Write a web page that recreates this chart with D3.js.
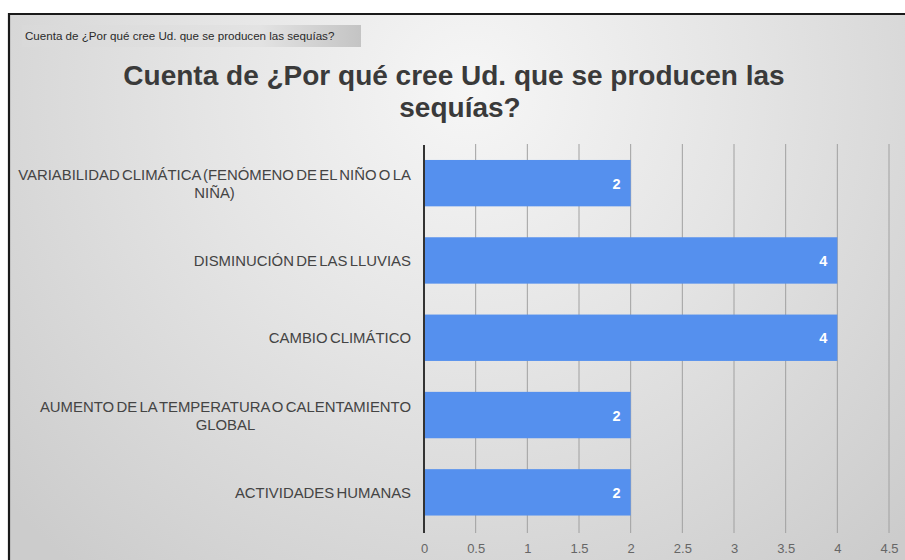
<!DOCTYPE html>
<html>
<head>
<meta charset="utf-8">
<script src="https://cdn.jsdelivr.net/npm/d3@7"></script>
<style>
  html, body { margin: 0; padding: 0; background: #fff; }
  svg { display: block; font-family: "Liberation Sans", Arial, sans-serif; }
</style>
</head>
<body>
<svg id="chart" width="905" height="560"></svg>
<script>
// Data
const categories = [
  "VARIABILIDAD CLIMÁTICA (FENÓMENO DE EL NIÑO O LA NIÑA)",
  "DISMINUCIÓN DE LAS LLUVIAS",
  "CAMBIO CLIMÁTICO",
  "AUMENTO DE LA TEMPERATURA O CALENTAMIENTO GLOBAL",
  "ACTIVIDADES HUMANAS"
];
const counts = [2, 4, 4, 2, 2];
const xTicks = [0, 0.5, 1, 1.5, 2, 2.5, 3, 3.5, 4, 4.5];
const titleLines = ["Cuenta de ¿Por qué cree Ud. que se producen las", "sequías?"];
const fieldLabel = "Cuenta de ¿Por qué cree Ud. que se producen las sequías?";

const svg = d3.select("#chart");
const W = 905, H = 560;

// Background gradients
const defs = svg.append("defs");
const bg = defs.append("radialGradient").attr("id", "bg")
  .attr("gradientUnits", "userSpaceOnUse")
  .attr("cx", 470).attr("cy", 90).attr("r", 620);
bg.append("stop").attr("offset", "0").attr("stop-color", "#f6f6f6");
bg.append("stop").attr("offset", "0.45").attr("stop-color", "#e4e4e4");
bg.append("stop").attr("offset", "1").attr("stop-color", "#cccccc");

const chip = defs.append("linearGradient").attr("id", "chip")
  .attr("x1", 0).attr("x2", 1).attr("y1", 0).attr("y2", 0);
chip.append("stop").attr("offset", "0").attr("stop-color", "#d9d9d9");
chip.append("stop").attr("offset", "0.7").attr("stop-color", "#e3e3e3");
chip.append("stop").attr("offset", "1").attr("stop-color", "#c4c4c4");

// Panel with dark frame on top and left
svg.append("rect").attr("x", 9).attr("y", 14).attr("width", W - 9).attr("height", H - 14)
  .attr("fill", "url(#bg)");
svg.append("path").attr("d", `M9,${H} V14 H${W}`)
  .attr("fill", "none").attr("stroke", "#1a1a1a").attr("stroke-width", 2.2);

// Field chip
svg.append("rect").attr("x", 22).attr("y", 25).attr("width", 339).attr("height", 22)
  .attr("fill", "url(#chip)");
svg.append("text").attr("x", 25).attr("y", 40)
  .attr("font-size", 11.6).attr("fill", "#2a2a2a").text(fieldLabel);

// Title
svg.append("g").selectAll("text").data(titleLines).join("text")
  .attr("x", (d, i) => i === 0 ? 454 : 460).attr("y", (d, i) => 85 + i * 32)
  .attr("text-anchor", "middle")
  .attr("font-size", 28).attr("font-weight", "bold").attr("fill", "#3a3a3a")
  .text(d => d);

// Scales
const x = d3.scaleLinear().domain([0, 4.5]).range([424, 889]);
const y = d3.scaleBand().domain(categories).range([144.5, 531]).paddingInner(0.4).paddingOuter(0.2);

// Gridlines
svg.append("g").selectAll("line").data(xTicks.filter(t => t > 0)).join("line")
  .attr("x1", d => x(d)).attr("x2", d => x(d))
  .attr("y1", 144).attr("y2", 533)
  .attr("stroke", "#a0a0a0").attr("stroke-width", 1);

// Bars
svg.append("g").selectAll("rect").data(categories).join("rect")
  .attr("x", x(0)).attr("y", d => y(d))
  .attr("width", (d, i) => x(counts[i]) - x(0))
  .attr("height", y.bandwidth())
  .attr("fill", "#5590ee");

// Value labels
svg.append("g").selectAll("text").data(categories).join("text")
  .attr("x", (d, i) => x(counts[i]) - 10)
  .attr("y", d => y(d) + y.bandwidth() / 2 + 5.5)
  .attr("text-anchor", "end")
  .attr("font-size", 14.5).attr("font-weight", "bold").attr("fill", "#ffffff")
  .text((d, i) => counts[i]);

// Zero axis line
svg.append("line").attr("x1", x(0)).attr("x2", x(0)).attr("y1", 145).attr("y2", 533)
  .attr("stroke", "#333").attr("stroke-width", 2);

// X tick labels
const xAxis = d3.axisBottom(x).tickValues(xTicks).tickSize(0).tickPadding(0)
  .tickFormat(d3.format("~g"));
const gx = svg.append("g").attr("transform", "translate(0,544)").call(xAxis);
gx.select(".domain").remove();
gx.selectAll("text").attr("font-size", 13).attr("fill", "#666")
  .attr("font-family", "'Liberation Sans', Arial, sans-serif");

// Category labels, wrapped and centred on each line, right-aligned as a block
const labelRight = 411, maxW = 400, lineH = 18, fs = 14.9;
const gy = svg.append("g");
const styleLabel = s => s.attr("font-size", fs).attr("word-spacing", -1.8);
categories.forEach(cat => {
  const words = cat.split(" ");
  const probe = gy.append("text").call(styleLabel);
  const lines = [];
  let cur = "";
  words.forEach(w => {
    const t = cur ? cur + " " + w : w;
    probe.text(t);
    if (probe.node().getComputedTextLength() > maxW && cur) { lines.push(cur); cur = w; }
    else cur = t;
  });
  lines.push(cur);
  const widths = lines.map(l => { probe.text(l); return probe.node().getComputedTextLength(); });
  probe.remove();
  const blockW = d3.max(widths);
  const cx = labelRight - blockW / 2;
  const cy = y(cat) + y.bandwidth() / 2;
  const y0 = cy - (lines.length - 1) * lineH / 2 + 5.5;
  gy.selectAll(null).data(lines).join("text")
    .attr("x", cx).attr("y", (d, i) => y0 + i * lineH)
    .attr("text-anchor", "middle").call(styleLabel).attr("fill", "#444")
    .text(d => d);
});
</script>
</body>
</html>
